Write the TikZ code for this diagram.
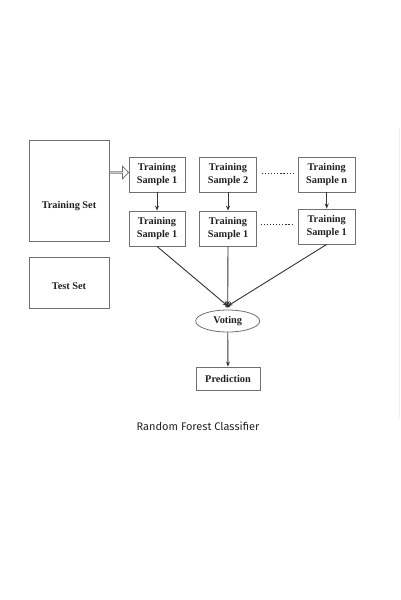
\documentclass[tikz,border=0pt]{standalone}
\usepackage{fontspec}
\setmainfont{Liberation Serif}
\newfontfamily\capfont{Fira Sans}
\usetikzlibrary{arrows.meta,shapes.geometric,shapes.arrows}
\definecolor{boxgray}{HTML}{707070}
\definecolor{linegray}{HTML}{333333}
\definecolor{txt}{HTML}{222222}
\tikzset{
  boxfont/.style={font=\fontsize{10.3}{13.3}\selectfont\bfseries, text=txt},
  box/.style={draw=boxgray, line width=0.8pt, inner sep=0pt, align=center, boxfont},
  conn/.style={draw=linegray, line width=0.9pt, -{Stealth[length=5pt,width=4pt]}},
  dotsty/.style={draw=linegray, line width=1.6pt, dash pattern=on 1.2pt off 1.9pt}
}
\begin{document}
\begin{tikzpicture}[x=1pt,y=-1pt]
\useasboundingbox (0,0) rectangle (400,600);
\fill[white] (0,0) rectangle (400,600);
% faint border line on the right
\draw[black!6, line width=0.8pt] (399.5,128) -- (399.5,419);

\node[box, minimum width=80pt, minimum height=101pt,
  label={[boxfont, inner sep=0pt, yshift=-15.5pt]center:Training Set}] (tset) at (69,190.5) {};
\node[box, minimum width=80pt, minimum height=51pt,
  label={[boxfont, inner sep=0pt, yshift=-3.2pt]center:Test Set}] (test) at (69,282.5) {};

\node[box, minimum width=56pt, minimum height=35pt] (a1) at (157,174.5) {Training\\Sample 1};
\node[box, minimum width=57pt, minimum height=35pt] (a2) at (228,174.5) {Training\\Sample 2};
\node[box, minimum width=57pt, minimum height=35pt] (an) at (326.7,174.5) {Training\\Sample n};

\node[box, minimum width=56pt, minimum height=35pt] (b1) at (157,228.5) {Training\\Sample 1};
\node[box, minimum width=57pt, minimum height=35pt] (b2) at (228,228.5) {Training\\Sample 1};
\node[box, minimum width=57pt, minimum height=35pt] (bn) at (326.7,226.5) {Training\\Sample 1};

\node[box, ellipse, minimum width=64pt, minimum height=22pt] (vote) at (227.7,321) {Voting};
\node[box, minimum width=64pt, minimum height=23pt] (pred) at (228,378.5) {Prediction};

\coordinate (meet) at (227.7,306);

% hollow arrow from training set to samples
\node[single arrow, draw=boxgray, line width=0.8pt, fill=white, inner sep=0pt,
  minimum height=19pt, minimum width=12.7pt, single arrow head extend=3.3pt,
  single arrow tip angle=92, single arrow head indent=0pt] (harrow) at (118.7,172.5) {};

% dotted separators
\draw[dotsty] (261.7,173.3) -- (293,173.3);
\draw[dotsty] (260.5,224.5) -- (292,224.5);

% vertical arrows
\draw[conn] (a1) -- (b1);
\draw[conn] (a2) -- (b2);
\draw[conn] (an) -- (bn);

% converging lines
\draw[conn] (b1.south) -- (meet);
\draw[conn] (b2.south) -- (meet);
\draw[conn] (bn.south) -- (meet);
\fill[linegray] (meet) ellipse (2.5pt and 1.5pt);

\draw[conn] (vote) -- (pred);

\node[font=\capfont\fontsize{11}{13}\selectfont, text=black!85, inner sep=0pt] (cap) at (198,426.5) {Random Forest Classifier};
\end{tikzpicture}
\end{document}
